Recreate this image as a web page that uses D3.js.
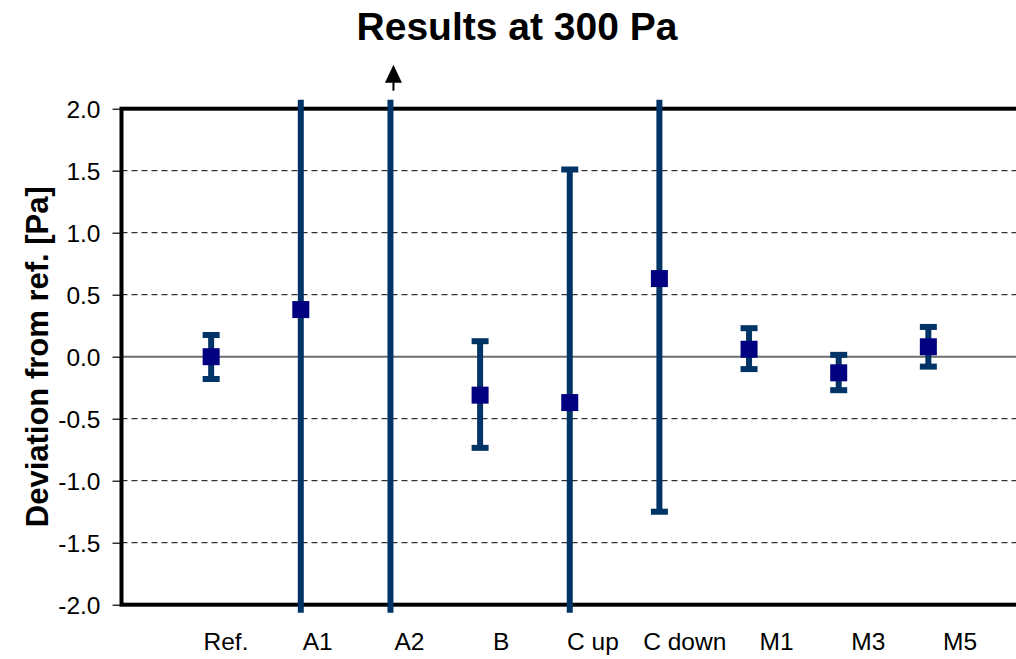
<!DOCTYPE html>
<html>
<head>
<meta charset="utf-8">
<script src="https://cdn.jsdelivr.net/npm/d3@7"></script>
<style>
  html, body { margin: 0; padding: 0; background: #ffffff; }
  svg { display: block; font-family: Arial, "Liberation Sans", sans-serif; }
</style>
</head>
<body>
<svg id="chart" width="1016" height="659"></svg>
<script>
// Measurement sites and their deviation from the reference [Pa]
const categories = ["Ref.", "A1", "A2", "B", "C up", "C down", "M1", "M3", "M5"];
const means      = [0.00, 0.38, 2.60, -0.31, -0.37, 0.63, 0.06, -0.13, 0.08];
// Uncertainty interval (lower / upper end of each error bar)
const lower      = [-0.18, -2.60, -2.60, -0.735, -2.60, -1.25, -0.10, -0.27, -0.08];
const upper      = [ 0.175, 2.60,  5.00,  0.125,  1.51,  2.60,  0.23,  0.015, 0.24];
const yTicks     = [-2.0, -1.5, -1.0, -0.5, 0.0, 0.5, 1.0, 1.5, 2.0];
const yDomain    = [-2.0, 2.0];

const svg = d3.select("#chart");

const plot = { left: 121.5, right: 1018, top: 108.7, bottom: 604.7 };

// Points sit on category boundaries, with one empty slot before the first
const x = d3.scaleLinear()
  .domain([0, categories.length + 1])
  .range([plot.left, plot.right]);
const xLabel = d3.scalePoint()
  .domain(categories)
  .range([226, 960]);
const y = d3.scaleLinear()
  .domain(yDomain)
  .range([plot.bottom, plot.top]);

// Dashed gridlines
svg.append("g")
  .selectAll("line")
  .data(yTicks.filter(t => t !== 0 && t !== yDomain[0] && t !== yDomain[1]))
  .join("line")
  .attr("x1", plot.left).attr("x2", plot.right)
  .attr("y1", d => y(d)).attr("y2", d => y(d))
  .attr("stroke", "#000").attr("stroke-width", 1)
  .attr("stroke-dasharray", "6,4");

// Zero line
svg.append("line")
  .attr("x1", plot.left).attr("x2", plot.right)
  .attr("y1", y(0)).attr("y2", y(0))
  .attr("stroke", "#6e6e6e").attr("stroke-width", 2);

// Frame of the plot area
svg.append("rect")
  .attr("x", plot.left).attr("y", plot.top)
  .attr("width", plot.right - plot.left).attr("height", plot.bottom - plot.top)
  .attr("fill", "none").attr("stroke", "#000").attr("stroke-width", 4);

// Y axis ticks and labels
const yAxis = d3.axisLeft(y)
  .tickValues(yTicks)
  .tickSize(9)
  .tickPadding(12)
  .tickFormat(d => d.toFixed(1));
const gy = svg.append("g")
  .attr("transform", `translate(${plot.left},0)`)
  .call(yAxis);
gy.select(".domain").remove();
gy.selectAll(".tick line").attr("stroke", "#000").attr("stroke-width", 1.2);
gy.selectAll(".tick text")
  .attr("fill", "#000")
  .style("font-size", "24.5px")
  .attr("dy", "0.35em");

// Error bars and markers, clipped a little beyond the plot area
svg.append("clipPath").attr("id", "clip")
  .append("rect")
  .attr("x", 0).attr("y", plot.top - 9)
  .attr("width", 1016).attr("height", plot.bottom - plot.top + 17);

const series = categories.map((c, i) => ({ c, i, m: means[i], lo: lower[i], hi: upper[i] }));
const g = svg.append("g").attr("clip-path", "url(#clip)");
const barColor = "#003366";
const capW = 17;

g.selectAll("line.bar").data(series).join("line")
  .attr("class", "bar")
  .attr("x1", d => x(d.i + 1)).attr("x2", d => x(d.i + 1))
  .attr("y1", d => y(d.lo)).attr("y2", d => y(d.hi))
  .attr("stroke", barColor).attr("stroke-width", 6);

g.selectAll("line.capHi").data(series).join("line")
  .attr("class", "capHi")
  .attr("x1", d => x(d.i + 1) - capW / 2).attr("x2", d => x(d.i + 1) + capW / 2)
  .attr("y1", d => y(d.hi)).attr("y2", d => y(d.hi))
  .attr("stroke", barColor).attr("stroke-width", 6);

g.selectAll("line.capLo").data(series).join("line")
  .attr("class", "capLo")
  .attr("x1", d => x(d.i + 1) - capW / 2).attr("x2", d => x(d.i + 1) + capW / 2)
  .attr("y1", d => y(d.lo)).attr("y2", d => y(d.lo))
  .attr("stroke", barColor).attr("stroke-width", 6);

const mk = 17;
svg.append("g").attr("clip-path", "url(#clip)")
  .selectAll("rect").data(series.filter(d => d.m <= yDomain[1] && d.m >= yDomain[0]))
  .join("rect")
  .attr("x", d => x(d.i + 1) - mk / 2).attr("y", d => y(d.m) - mk / 2)
  .attr("width", mk).attr("height", mk)
  .attr("fill", "#000080");

// Arrow for values above the axis range
const off = series.filter(d => d.m > yDomain[1]);
const arrows = svg.append("g").selectAll("g").data(off).join("g")
  .attr("transform", d => `translate(${x(d.i + 1) + 3},${y(yDomain[1])})`);
arrows.append("line")
  .attr("x1", 0).attr("x2", 0).attr("y1", -18).attr("y2", -28)
  .attr("stroke", "#000").attr("stroke-width", 2);
arrows.append("path")
  .attr("d", "M0,-44 L-8.5,-26 L8.5,-26 Z")
  .attr("fill", "#000");

// Category labels
svg.append("g").selectAll("text").data(categories).join("text")
  .attr("x", d => xLabel(d))
  .attr("y", 650)
  .attr("text-anchor", "middle")
  .style("font-size", "24.5px")
  .attr("fill", "#000")
  .text(d => d);

// Axis title
svg.append("text")
  .attr("transform", `translate(48,${(plot.top + plot.bottom) / 2}) rotate(-90)`)
  .attr("text-anchor", "middle")
  .style("font-size", "31px")
  .style("font-weight", "bold")
  .text("Deviation from ref. [Pa]");

// Chart title
svg.append("text")
  .attr("x", 517)
  .attr("y", 40)
  .attr("text-anchor", "middle")
  .style("font-size", "39px")
  .style("font-weight", "bold")
  .text("Results at 300 Pa");
</script>
</body>
</html>
